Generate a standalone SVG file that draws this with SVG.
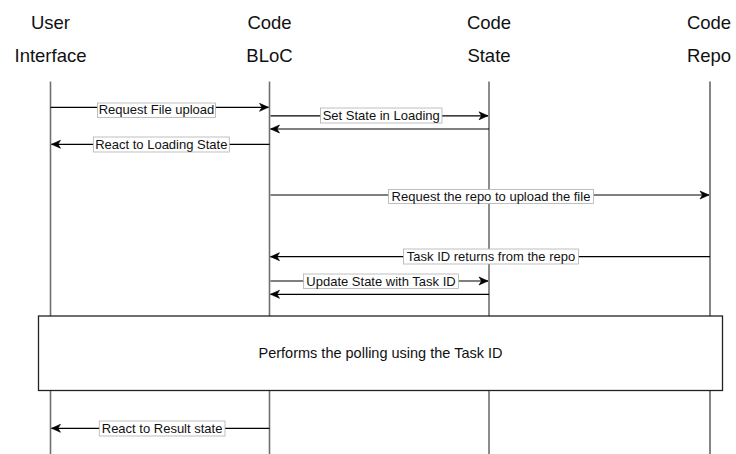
<svg xmlns="http://www.w3.org/2000/svg" width="736" height="454" viewBox="0 0 736 454">
<style>
.title{font-family:"Liberation Sans",Arial,Helvetica,sans-serif;font-size:18.5px;fill:#111;text-anchor:middle}
.life{stroke:#707070;stroke-width:1.6;fill:none}
.liferepo{stroke:#222;stroke-width:1.1;fill:none}
.msg{stroke:#000;stroke-width:1.2;fill:none;marker-end:url(#arr)}
.lblbox{fill:#fff;stroke:#b0b0b0;stroke-width:0.8}
.lbl{font-family:"Liberation Sans",Arial,Helvetica,sans-serif;font-size:13px;fill:#111;text-anchor:middle}
.frame{fill:#fff;stroke:#222;stroke-width:1.3}
.frametext{font-family:"Liberation Sans",Arial,Helvetica,sans-serif;font-size:14.5px;fill:#111;text-anchor:middle}
</style>
<defs>
<marker id="arr" markerUnits="userSpaceOnUse" markerWidth="10" markerHeight="10" refX="9" refY="4" orient="auto" overflow="visible">
<path d="M0,0 L9,4 L0,8 L2.5,4 Z" fill="#000" stroke="#000" stroke-width="0.6" stroke-linejoin="miter"/>
</marker>
</defs>
<rect width="736" height="454" fill="#fff"/>

<g id="node-user-interface">
<text class="title" x="50.5" y="28.5">User</text>
<text class="title" x="50.5" y="62">Interface</text>
<line class="life" x1="50.5" y1="81.5" x2="50.5" y2="454"/>
</g>
<g id="node-code-bloc">
<text class="title" x="269.5" y="28.5">Code</text>
<text class="title" x="269.5" y="62">BLoC</text>
<line class="life" x1="269.5" y1="81.5" x2="269.5" y2="454"/>
</g>
<g id="node-code-state">
<text class="title" x="489" y="28.5">Code</text>
<text class="title" x="489" y="62">State</text>
<line class="life" x1="489" y1="81.5" x2="489" y2="454"/>
</g>
<g id="node-code-repo">
<text class="title" x="709" y="28.5">Code</text>
<text class="title" x="709" y="62">Repo</text>
<line class="liferepo" x1="710" y1="81.5" x2="710" y2="454"/>
</g>

<g id="connectors">
<g id="c1">
<line class="msg" x1="50.5" y1="107.3" x2="268.5" y2="107.3"/>
<rect class="lblbox" x="97.5" y="103" width="118" height="14.5"/>
<text class="lbl" x="156.5" y="114.3">Request File upload</text>
</g>
<g id="c2">
<line class="msg" x1="270.5" y1="115.8" x2="488" y2="115.8"/>
<rect class="lblbox" x="320.5" y="108" width="121.5" height="15"/>
<text class="lbl" x="381.2" y="120">Set State in Loading</text>
</g>
<g id="c3">
<line class="msg" x1="489" y1="129" x2="270.5" y2="129"/>
</g>
<g id="c4">
<line class="msg" x1="269.5" y1="144.3" x2="51.5" y2="144.3"/>
<rect class="lblbox" x="93.3" y="137" width="136" height="15"/>
<text class="lbl" x="161.3" y="148.8">React to Loading State</text>
</g>
<g id="c5">
<line class="msg" x1="270.5" y1="195" x2="709" y2="195"/>
<rect class="lblbox" x="388.5" y="189.5" width="205" height="14"/>
<text class="lbl" x="491" y="200.8">Request the repo to upload the file</text>
</g>
<g id="c6">
<line class="msg" x1="710" y1="256.7" x2="270.5" y2="256.7"/>
<rect class="lblbox" x="403.5" y="249" width="175" height="15"/>
<text class="lbl" x="491" y="261">Task ID returns from the repo</text>
</g>
<g id="c7">
<line class="msg" x1="270.5" y1="281" x2="488" y2="281"/>
<rect class="lblbox" x="303.5" y="274" width="155" height="14.5"/>
<text class="lbl" x="381" y="285.5">Update State with Task ID</text>
</g>
<g id="c8">
<line class="msg" x1="489" y1="294.3" x2="270.5" y2="294.3"/>
</g>
<g id="c9">
<line class="msg" x1="269.5" y1="428.3" x2="51.5" y2="428.3"/>
<rect class="lblbox" x="99.3" y="421" width="125.7" height="15"/>
<text class="lbl" x="162.1" y="432.8">React to Result state</text>
</g>
</g>

<g id="node-polling">
<rect class="frame" x="38.5" y="316" width="684" height="74.5"/>
<text class="frametext" x="380.5" y="358.3">Performs the polling using the Task ID</text>
</g>
</svg>
